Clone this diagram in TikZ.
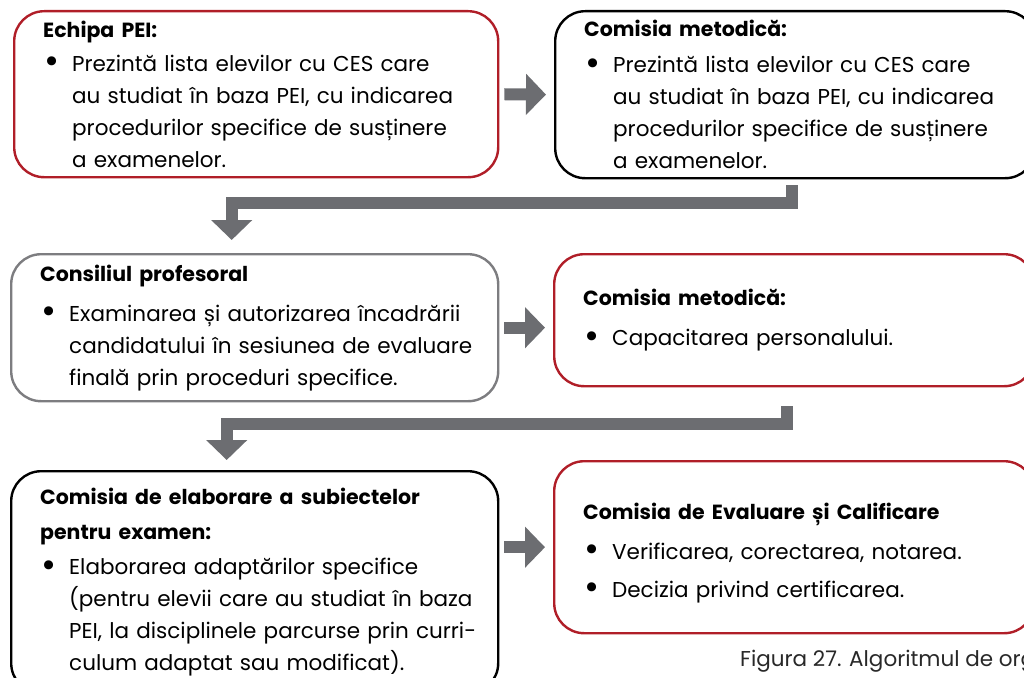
\documentclass[tikz,border=0pt]{standalone}
\usepackage{fontspec}
\setmainfont{Poppins}
\usepackage{tikz}
\usetikzlibrary{arrows.meta}

\definecolor{boxred}{RGB}{176,30,40}
\definecolor{boxgray}{RGB}{125,125,128}
\definecolor{flowgray}{RGB}{108,109,113}
\definecolor{captext}{RGB}{40,40,40}

% bullet and continuation indent
\newcommand{\blt}{\makebox[29pt][l]{\hspace{1pt}\raisebox{-0.12em}{\scalebox{1.7}{\textbullet}}}}
\newcommand{\cnt}{\hspace*{29pt}}
\newcommand{\ttl}[1]{{\bfseries\fontsize{20.5}{32}\selectfont #1}}

\begin{document}
\begin{tikzpicture}[
  x=1pt, y=-1pt,
  font=\fontsize{21.5}{32}\selectfont,
  card/.style={draw, line width=2.4pt, rounded corners=30pt, anchor=north west,
    align=left, inner xsep=0pt, inner ysep=0pt,
    execute at begin node={\leftskip=29pt\relax}},
  redcard/.style={card, draw=boxred},
  blkcard/.style={card, draw=black},
  grycard/.style={card, draw=boxgray},
  flow/.style={draw=flowgray, line width=12pt, line join=miter,
    -{Triangle[width=40pt, length=20pt]}},
]
\useasboundingbox (0,0) rectangle (1024,677);
\clip (0,0) rectangle (1024,677);

\node[redcard, text width=484pt, minimum height=166pt] (echipa) at (13,10)
  {\ttl{Echipa PEI:}\\[2pt]
   \blt Prezintă lista elevilor cu CES care\\
   \cnt au studiat în baza PEI, cu indicarea\\
   \cnt procedurilor specifice de susținere\\
   \cnt a examenelor.};
\node[blkcard, text width=480pt, minimum height=167pt] (metod) at (554,10)
  {\ttl{Comisia metodică:}\\[4pt]
   \blt Prezintă lista elevilor cu CES care\\
   \cnt au studiat în baza PEI, cu indicarea\\
   \cnt procedurilor specifice de susținere\\
   \cnt a examenelor.};
\node[grycard, text width=487pt, minimum height=147pt] (consiliu) at (10,253)
  {\ttl{Consiliul profesoral}\\[8pt]
   \blt Examinarea și autorizarea încadrării\\
   \cnt candidatului în sesiunea de evaluare\\
   \cnt finală prin proceduri specifice.};
\node[redcard, text width=480pt, minimum height=132pt] (capac) at (553,253)
  {\ttl{Comisia metodică:}\\[8pt]
   \blt Capacitarea personalului.};
\node[blkcard, text width=487pt, minimum height=222pt] (elab) at (10,470)
  {\ttl{Comisia de elaborare a subiectelor}\\[3pt]
   \ttl{pentru examen:}\\[3pt]
   \blt Elaborarea adaptărilor specifice\\
   \cnt (pentru elevii care au studiat în baza\\
   \cnt PEI, la disciplinele parcurse prin curri-\\
   \cnt culum adaptat sau modificat).};
\node[redcard, text width=480pt, minimum height=172pt] (evaluare) at (553,460)
  {\rule{0pt}{28pt}\ttl{Comisia de Evaluare și Calificare}\\[8pt]
   \blt Verificarea, corectarea, notarea.\\[6pt]
   \blt Decizia privind certificarea.};

\draw[flow, shorten <=5pt, shorten >=8pt] (echipa.east) -- (metod.west);
\draw[flow, shorten <=5pt, shorten >=8pt] (consiliu.east) -- (consiliu.east -| capac.west);
\draw[flow, shorten <=5pt, shorten >=8pt] (elab.east |- evaluare.west) -- (evaluare.west);

\draw[flow, shorten <=6pt, shorten >=13pt] ([xshift=-3pt]metod.south) -- ++(0,24)
  -| ([xshift=-23pt]consiliu.north);
\draw[flow, shorten <=19pt, shorten >=10pt] ([xshift=-7pt]capac.south) -- ++(0,37)
  -| ([xshift=-28pt]elab.north);

\node[anchor=base west, text=captext, inner sep=0pt] (fig) at (740,666)
  {Figura 27. Algoritmul de organizare};
\end{tikzpicture}
\end{document}
